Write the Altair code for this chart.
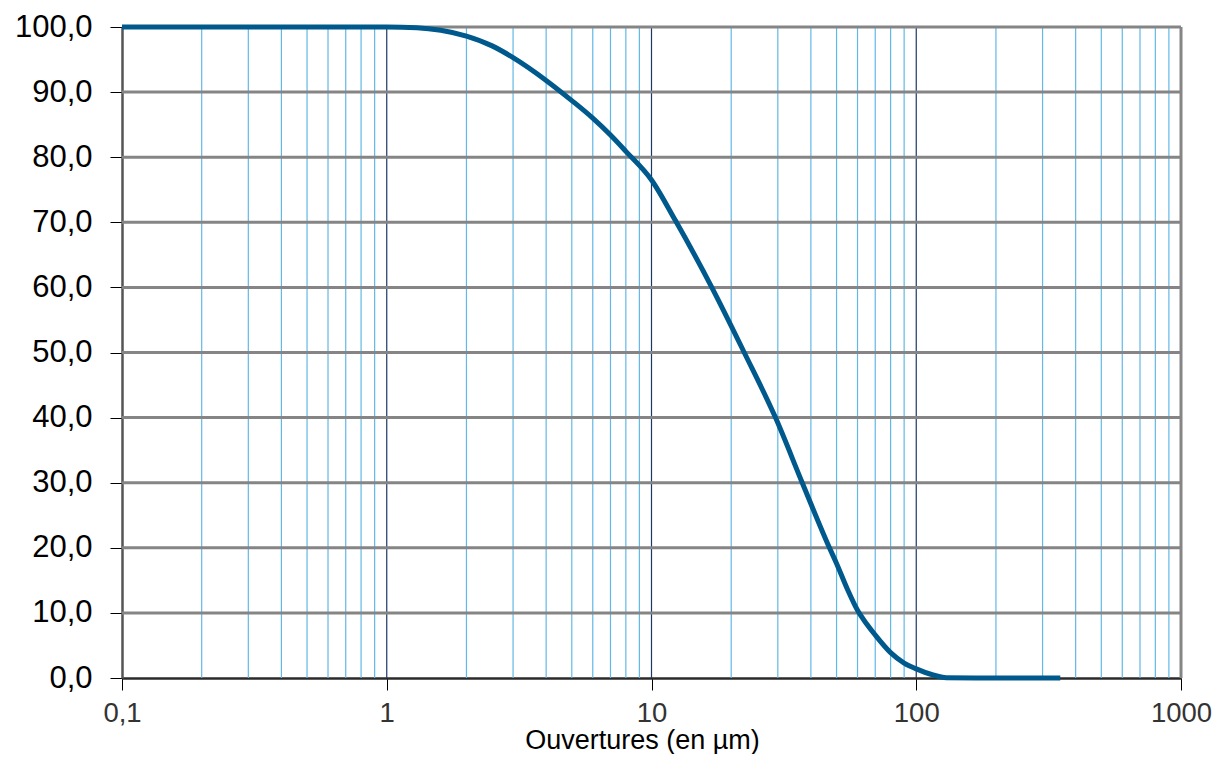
import altair as alt
import pandas as pd

# Cumulative passing curve
sizes_um = [0.1, 1.0, 1.3, 1.6, 2.0, 2.5, 3.0, 4.0, 5.0, 6.0, 7.0, 8.0, 10.0, 12.3,
            16.8, 22.4, 29.4, 37.1, 47.0, 50.0, 55.0, 60.0, 65.0, 70.0, 80.0, 90.0,
            100.0, 115.0, 130.0, 200.0, 350.0]
passing_pct = [100.0, 100.0, 99.9, 99.5, 98.6, 97.1, 95.3, 91.8, 88.7, 86.0, 83.4, 80.9,
               76.5, 70.3, 60.2, 50.0, 40.0, 30.0, 20.0, 17.6, 13.6, 10.4, 8.3, 6.6,
               3.9, 2.3, 1.4, 0.5, 0.05, 0.0, 0.0]

x_ticks = [0.1, 1, 10, 100, 1000]
y_ticks = [0, 10, 20, 30, 40, 50, 60, 70, 80, 90, 100]
minor_x = [0.2, 0.3, 0.4, 0.5, 0.6, 0.7, 0.8, 0.9,
           2, 3, 4, 5, 6, 7, 8, 9,
           20, 30, 40, 50, 60, 70, 80, 90,
           200, 300, 400, 500, 600, 700, 800, 900]
major_x = [1, 10, 100]
h_grid = [10, 20, 30, 40, 50, 60, 70, 80, 90, 100]
right_edge = [1000]

FONT = "Liberation Sans"

xscale = alt.Scale(type="log", domain=[0.1, 1000], nice=False)
yscale = alt.Scale(domain=[0, 100], nice=False)

x_axis = alt.Axis(
    values=x_ticks,
    labelExpr="replace(format(datum.value, '~g'), '.', ',')",
    grid=False,
    tickSize=12,
    tickColor="#000000",
    tickWidth=1,
    domainColor="#2a2a2a",
    domainWidth=2.5,
    labelFont=FONT,
    labelFontSize=27.5,
    labelColor="#333333",
    labelPadding=9,
    labelFlush=False,
    labelOverlap=False,
    title="Ouvertures (en µm)",
    titleFont=FONT,
    titleFontSize=27,
    titleFontWeight="normal",
    titleColor="#000000",
    titleBaseline="alphabetic",
    titleX=520,
    titleY=70,
)
y_axis = alt.Axis(
    values=y_ticks,
    labelExpr="replace(format(datum.value, '.1f'), '.', ',')",
    grid=False,
    tickSize=12,
    tickColor="#000000",
    tickWidth=1,
    domainColor="#555555",
    domainWidth=2.5,
    labelFont=FONT,
    labelFontSize=31,
    labelColor="#000000",
    labelPadding=18,
    labelFlush=False,
    title=None,
)

df = pd.DataFrame({"size": sizes_um, "pct": passing_pct})

minor = alt.Chart(pd.DataFrame({"size": minor_x})).mark_rule(
    color="#62b8e6", strokeWidth=1.2
).encode(x=alt.X("size:Q", scale=xscale, axis=x_axis))

major = alt.Chart(pd.DataFrame({"size": major_x})).mark_rule(
    color="#1b3768", strokeWidth=1.2
).encode(x=alt.X("size:Q", scale=xscale, axis=x_axis))

hgrid = alt.Chart(pd.DataFrame({"pct": h_grid})).mark_rule(
    color="#858585", strokeWidth=3
).encode(y=alt.Y("pct:Q", scale=yscale, axis=y_axis))

redge = alt.Chart(pd.DataFrame({"size": right_edge})).mark_rule(
    color="#858585", strokeWidth=3
).encode(x=alt.X("size:Q", scale=xscale, axis=x_axis))

line = alt.Chart(df).mark_line(
    color="#00598c", strokeWidth=5, interpolate="monotone"
).encode(
    x=alt.X("size:Q", scale=xscale, axis=x_axis),
    y=alt.Y("pct:Q", scale=yscale, axis=y_axis),
)

chart = alt.layer(minor, major, hgrid, redge, line).properties(
    width=1059,
    height=651,
    autosize=alt.AutoSizeParams(type="none"),
    padding={"left": 114, "top": 19, "right": 31, "bottom": 76},
).configure_view(stroke=None).configure(background="#ffffff")

chart.save("out.html", embed_options={"renderer": "svg", "actions": False})
